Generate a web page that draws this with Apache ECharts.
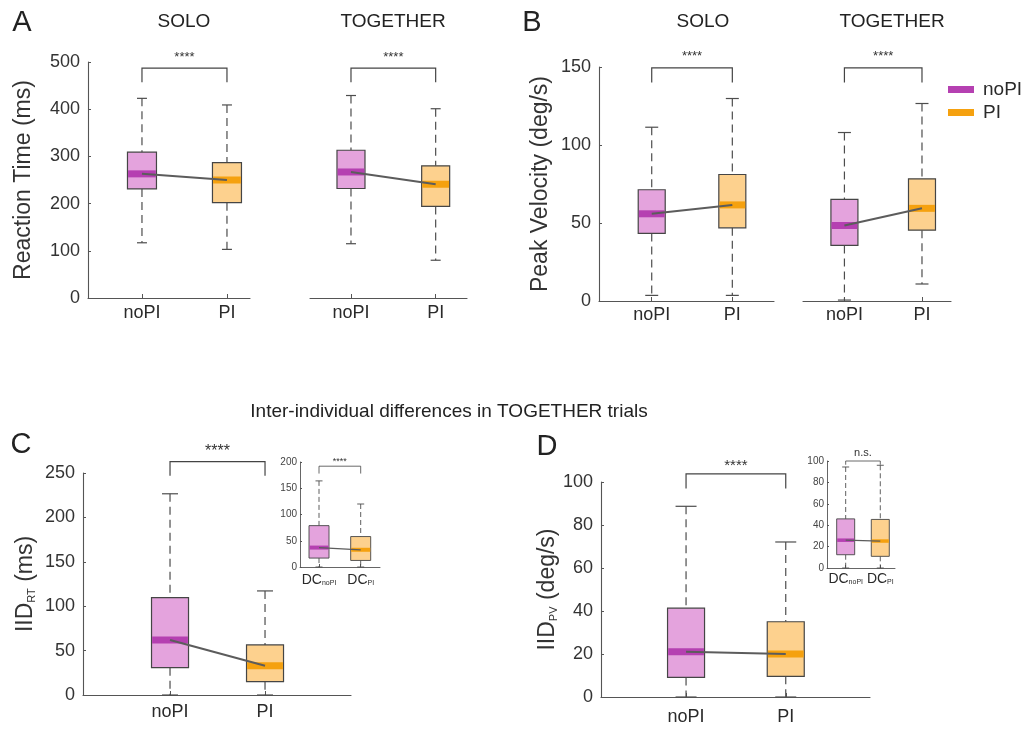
<!DOCTYPE html>
<html><head><meta charset="utf-8">
<script src="https://cdn.jsdelivr.net/npm/echarts@6/dist/echarts.min.js"></script>
<style>html,body{margin:0;padding:0;background:#fff}#main{width:1030px;height:731px}</style>
</head><body><div id="main"></div>
<script>
// ---------- data ----------
const categories = ['noPI', 'PI'];
const insetCategories = ['DC{sub|noPI}', 'DC{sub|PI}'];
// box statistics per condition: [lower whisker, Q1, median, Q3, upper whisker]
const rtSolo     = [[117, 231, 263, 309, 423], [103, 202, 250, 287, 409]];
const rtTogether = [[115, 232, 267, 313, 429], [80, 194, 241, 280, 401]];
const pvSolo     = [[3.6, 43.3, 55.9, 71.3, 111.4], [3.6, 46.9, 61.6, 81.1, 129.8]];
const pvTogether = [[0.6, 35.6, 48.4, 65.1, 108], [10.9, 45.4, 59.4, 78.3, 126.6]];
const iidRT      = [[0, 30.8, 62, 109.7, 226.6], [0, 15, 33, 56.4, 117.2]];
const dcRT       = [[0, 17, 37, 78.8, 164], [0, 12.5, 32.8, 58, 120]];
const iidPV      = [[0, 9.1, 21, 41.3, 88.7], [0, 9.6, 20, 35, 72.1]];
const dcPV       = [[0, 12.4, 26, 45.9, 94.4], [0, 10.9, 25.2, 45.4, 96]];
const sigLabels  = ['****', '****', '****', '****', '****', '****', '****', 'n.s.'];
const panelTitles = ['SOLO', 'TOGETHER', 'SOLO', 'TOGETHER'];
const yTitles = ['Reaction Time (ms)', 'Peak Velocity (deg/s)', 'IID{sub|RT} (ms)', 'IID{sub|PV} (deg/s)'];
const mainTitle = 'Inter-individual differences in TOGETHER trials';

// ---------- style ----------
const FONT = '"Liberation Sans", Arial, Helvetica, sans-serif';
const COLORS = [
  { fill: '#E4A3DD', band: '#B540B1' },
  { fill: '#FDD18E', band: '#F5A10F' }
];
const AXIS_COL = '#555';
const TXT = '#2a2a2a';

const panels = [
  { data: rtSolo, grid: { left: 88, top: 62, width: 162, height: 236 }, xr: [0.365, 2.271], yr: [0, 500, 100], showY: true, yName: yTitles[0], nameGap: 53, boxW: 29, capW: 10, bandH: 7, br: [487, 457], sig: sigLabels[0], sigSize: 13, sigOff: 11, catMargin: 6 },
  { data: rtTogether, grid: { left: 310, top: 62, width: 157, height: 236 }, xr: [0.516, 2.37], yr: [0, 500, 100], showY: false, boxW: 28, capW: 10, bandH: 7, br: [487, 457], sig: sigLabels[1], sigSize: 13, sigOff: 11, catMargin: 6 },
  { data: pvSolo, grid: { left: 599, top: 67, width: 175, height: 234 }, xr: [0.346, 2.517], yr: [0, 150, 50], showY: true, yName: yTitles[1], nameGap: 47, boxW: 27, capW: 13, bandH: 7, br: [149.5, 140], sig: sigLabels[2], sigSize: 13, sigOff: 11, catMargin: 5 },
  { data: pvTogether, grid: { left: 803, top: 67, width: 148, height: 234 }, xr: [0.466, 2.374], yr: [0, 150, 50], showY: false, boxW: 27, capW: 13, bandH: 7, br: [149.5, 140], sig: sigLabels[3], sigSize: 13, sigOff: 11, catMargin: 5 },
  { data: iidRT, grid: { left: 83, top: 473, width: 268, height: 222 }, xr: [0.084, 2.905], yr: [0, 250, 50], showY: true, yName: yTitles[2], nameGap: 46, boxW: 37, capW: 16, bandH: 7, br: [262.7, 247], sig: sigLabels[4], sigSize: 16, sigOff: 10, catMargin: 8 },
  { data: dcRT, grid: { left: 300, top: 462, width: 80, height: 105 }, xr: [0.544, 2.463], yr: [0, 200, 50], showY: true, inset: true, boxW: 20, capW: 7, bandH: 4, br: [192, 178], sig: sigLabels[5], sigSize: 9, sigOff: 5, catMargin: 6 },
  { data: iidPV, grid: { left: 601, top: 482, width: 269, height: 215 }, xr: [0.147, 2.845], yr: [0, 100, 20], showY: true, yName: yTitles[3], nameGap: 37, boxW: 37, capW: 21, bandH: 7, br: [103.8, 97], sig: sigLabels[6], sigSize: 15, sigOff: 8, catMargin: 11 },
  { data: dcPV, grid: { left: 827, top: 461, width: 68, height: 107 }, xr: [0.46, 2.425], yr: [0, 100, 20], showY: true, inset: true, boxW: 18, capW: 7, bandH: 3.5, br: [100, 96.5], sig: sigLabels[7], sigSize: 11, sigOff: 8, catMargin: 4 }
];

function boxRenderer(p, ci) {
  return function (params, api) {
    const x = api.value(0);
    const lo = api.coord([x, api.value(1)]);
    const q1 = api.coord([x, api.value(2)]);
    const md = api.coord([x, api.value(3)]);
    const q3 = api.coord([x, api.value(4)]);
    const hi = api.coord([x, api.value(5)]);
    const cx = lo[0], w = p.boxW, cw = p.capW;
    const lw = p.inset ? 0.9 : 1.2;
    const dash = p.inset ? [5, 3] : [8, 5];
    const wStyle = { stroke: '#4d4d4d', lineWidth: lw, lineDash: dash, fill: null };
    const cStyle = { stroke: '#4d4d4d', lineWidth: lw, fill: null };
    return {
      type: 'group',
      children: [
        { type: 'line', shape: { x1: cx, y1: hi[1], x2: cx, y2: q3[1] }, style: wStyle },
        { type: 'line', shape: { x1: cx, y1: q1[1], x2: cx, y2: lo[1] }, style: wStyle },
        { type: 'line', shape: { x1: cx - cw / 2, y1: hi[1], x2: cx + cw / 2, y2: hi[1] }, style: cStyle },
        { type: 'line', shape: { x1: cx - cw / 2, y1: lo[1], x2: cx + cw / 2, y2: lo[1] }, style: cStyle },
        { type: 'rect', shape: { x: cx - w / 2, y: q3[1], width: w, height: q1[1] - q3[1] }, style: { fill: COLORS[ci].fill, stroke: '#454545', lineWidth: lw } },
        { type: 'rect', shape: { x: cx - w / 2 + lw / 2, y: md[1] - p.bandH / 2, width: w - lw, height: p.bandH }, style: { fill: COLORS[ci].band } }
      ]
    };
  };
}

function bracketRenderer(p) {
  return function (params, api) {
    const a = api.coord([1, p.br[0]]);
    const b = api.coord([2, p.br[0]]);
    const la = api.coord([1, p.br[1]]);
    const lw = p.inset ? 0.8 : 1.2;
    return {
      type: 'group',
      children: [
        { type: 'polyline', shape: { points: [[a[0], la[1]], [a[0], a[1]], [b[0], b[1]], [b[0], la[1]]] }, style: { stroke: '#444', lineWidth: lw, fill: null } },
        { type: 'text', x: (a[0] + b[0]) / 2, y: a[1] - p.sigOff, style: { text: p.sig, font: p.sigSize + 'px ' + FONT, fill: '#333', align: 'center', verticalAlign: 'middle' } }
      ]
    };
  };
}

const grids = [], xAxes = [], yAxes = [], series = [];
panels.forEach((p, gi) => {
  grids.push(Object.assign({ containLabel: false }, p.grid));
  const labels = p.inset ? insetCategories : categories;
  const catFont = p.inset ? 14 : 18;
  xAxes.push({
    gridIndex: gi, type: 'value', min: p.xr[0], max: p.xr[1],
    axisLine: { show: true, onZero: false, lineStyle: { color: AXIS_COL, width: p.inset ? 0.9 : 1.1 } },
    axisTick: { show: true, inside: true, length: p.inset ? 3 : 4, customValues: [1, 2], lineStyle: { color: AXIS_COL } },
    axisLabel: {
      customValues: [1, 2], margin: p.catMargin, fontSize: catFont, color: TXT, fontFamily: FONT,
      formatter: v => labels[Math.round(v) - 1],
      rich: { sub: { fontSize: 7, color: TXT, fontFamily: FONT, verticalAlign: 'bottom', lineHeight: 8 } }
    },
    splitLine: { show: false }
  });
  yAxes.push({
    gridIndex: gi, type: 'value', min: p.yr[0], max: p.yr[1], interval: p.yr[2], show: p.showY,
    axisLine: { show: true, lineStyle: { color: AXIS_COL, width: p.inset ? 0.9 : 1.1 } },
    axisTick: { show: true, inside: true, length: p.inset ? 2 : 3, lineStyle: { color: AXIS_COL } },
    axisLabel: { fontSize: p.inset ? 10 : 18, color: p.inset ? '#444' : '#333', fontFamily: FONT, margin: p.inset ? 3 : 8 },
    splitLine: { show: false },
    name: p.yName || '', nameLocation: 'middle', nameGap: p.nameGap || 0, nameRotate: 90,
    nameTextStyle: { fontSize: 23, color: '#333', fontFamily: FONT,
      rich: { sub: { fontSize: 11, color: '#333', fontFamily: FONT, verticalAlign: 'bottom', lineHeight: 11 } } }
  });
  p.data.forEach((d, ci) => {
    series.push({
      type: 'custom', name: categories[ci], xAxisIndex: gi, yAxisIndex: gi,
      itemStyle: { color: COLORS[ci].band }, z: 2,
      data: [[ci + 1].concat(d)], encode: { x: 0, y: [1, 2, 3, 4, 5] },
      renderItem: boxRenderer(p, ci), silent: true
    });
  });
  series.push({
    type: 'line', name: 'median-' + gi, xAxisIndex: gi, yAxisIndex: gi, z: 5,
    symbol: 'none', silent: true,
    lineStyle: { color: '#5c5c5c', width: p.inset ? 1.2 : 2 },
    data: p.data.map((d, ci) => [ci + 1, d[2]])
  });
  series.push({
    type: 'custom', name: 'sig-' + gi, xAxisIndex: gi, yAxisIndex: gi, z: 6, silent: true,
    data: [[1.5, p.br[0]]], renderItem: bracketRenderer(p)
  });
});

const txt = (text, x, y, size) => ({ type: 'text', x, y, silent: true,
  style: { text, font: size + 'px ' + FONT, fill: '#222', align: 'center', verticalAlign: 'middle' } });

const option = {
  backgroundColor: '#fff',
  animation: false,
  grid: grids, xAxis: xAxes, yAxis: yAxes, series,
  legend: {
    orient: 'vertical', left: 943, top: 75, icon: 'rect', itemWidth: 26, itemHeight: 7, itemGap: 4,
    data: categories, selectedMode: false,
    textStyle: { fontSize: 19, color: TXT, fontFamily: FONT, padding: [0, 0, 0, 4] }
  },
  graphic: [
    txt('A', 22, 23, 29), txt('B', 532, 23, 29), txt('C', 21, 445, 29), txt('D', 547, 447, 29),
    txt(panelTitles[0], 184, 22, 19), txt(panelTitles[1], 393, 22, 19),
    txt(panelTitles[2], 703, 22, 19), txt(panelTitles[3], 892, 22, 19),
    txt(mainTitle, 449, 412, 19)
  ]
};
const chart = echarts.init(document.getElementById('main'), null, { renderer: 'canvas' });
chart.setOption(option);
</script>
</body></html>
